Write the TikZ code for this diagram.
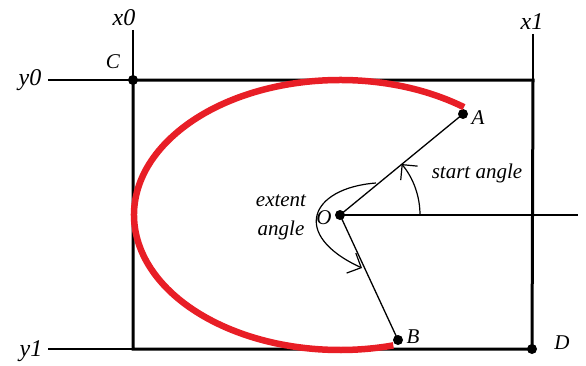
\documentclass[tikz,border=0pt]{standalone}
\usepackage{fontspec}
\setmainfont{Liberation Serif}
\usetikzlibrary{arrows.meta}
\definecolor{arcred}{RGB}{232,30,38}
\begin{document}
\begin{tikzpicture}[x=1pt,y=1pt,
  dot/.style={circle,fill=black,inner sep=0pt,minimum size=10pt},
  lbl/.style={font=\fontsize{21}{23}\selectfont\itshape,inner sep=0pt},
  axlbl/.style={font=\fontsize{24}{26}\selectfont\itshape,inner sep=0pt},
  thinline/.style={line width=1.3pt},
  box/.style={line width=3pt},
  redarc/.style={line width=6.5pt,draw=arcred},
  angarrow/.style={line width=1.2pt,-{Straight Barb[length=11pt,width=22pt,line width=1.2pt]}}]
\useasboundingbox (0,0) rectangle (586,365);
% points
\node[dot] (C) at (133,285) {};
\node[dot] (D) at (532,16) {};
\node[dot] (O) at (340,150) {};
\node[dot] (A) at (463,251) {};
\node[dot] (B) at (398,25) {};
\coordinate (TR) at (533,285);
\coordinate (BL) at (133,16);
\coordinate (x0top) at (133,335);
\coordinate (x1top) at (533,331);
\coordinate (y0left) at (48,285);
\coordinate (y1left) at (48,16);
\coordinate (hend) at (578,150);
% guide lines
\draw[thinline] (x0top) -- (C.center);
\draw[thinline] (x1top) -- (TR);
\draw[thinline] (y0left) -- (C.center);
\draw[thinline] (y1left) -- (BL);
% rectangle
\draw[box] (C.center) -- (TR) -- (D.center) -- (BL) -- cycle;
% red arc
\draw[redarc] ([shift={(53:206pt and 135pt)}]O.center) arc[start angle=53,end angle=285,x radius=206pt,y radius=135pt];
% radial lines
\draw[thinline] (O.center) -- (A.center);
\draw[thinline] (O.center) -- (B.center);
\draw[thinline] (O.center) -- (hend);
% angle arrows
\draw[angarrow] ([shift={(0:80pt)}]O.center) arc[start angle=0,end angle=39.6,radius=80pt];
\coordinate (ext1) at (376,182);
\coordinate (ext2) at (362,97);
\draw[angarrow] (ext1) .. controls (310,177) and (290,130) .. (ext2);
% labels
\node[axlbl] (lx0) at (124,347) {x0};
\node[axlbl] (lx1) at (532,343) {x1};
\node[axlbl] (ly0) at (30,285) {y0};
\node[axlbl] (ly1) at (31,14) {y1};
\node[lbl] (lC) at (113,303) {C};
\node[lbl] (lD) at (562,22) {D};
\node[lbl] (lA) at (478,247) {A};
\node[lbl] (lB) at (413,28) {B};
\node[lbl] (lO) at (324,147) {O};
\node[lbl] (lstart) at (477,192) {start angle};
\node[lbl] (lext1) at (281,164) {extent};
\node[lbl] (lext2) at (281,135) {angle};
\end{tikzpicture}
\end{document}
